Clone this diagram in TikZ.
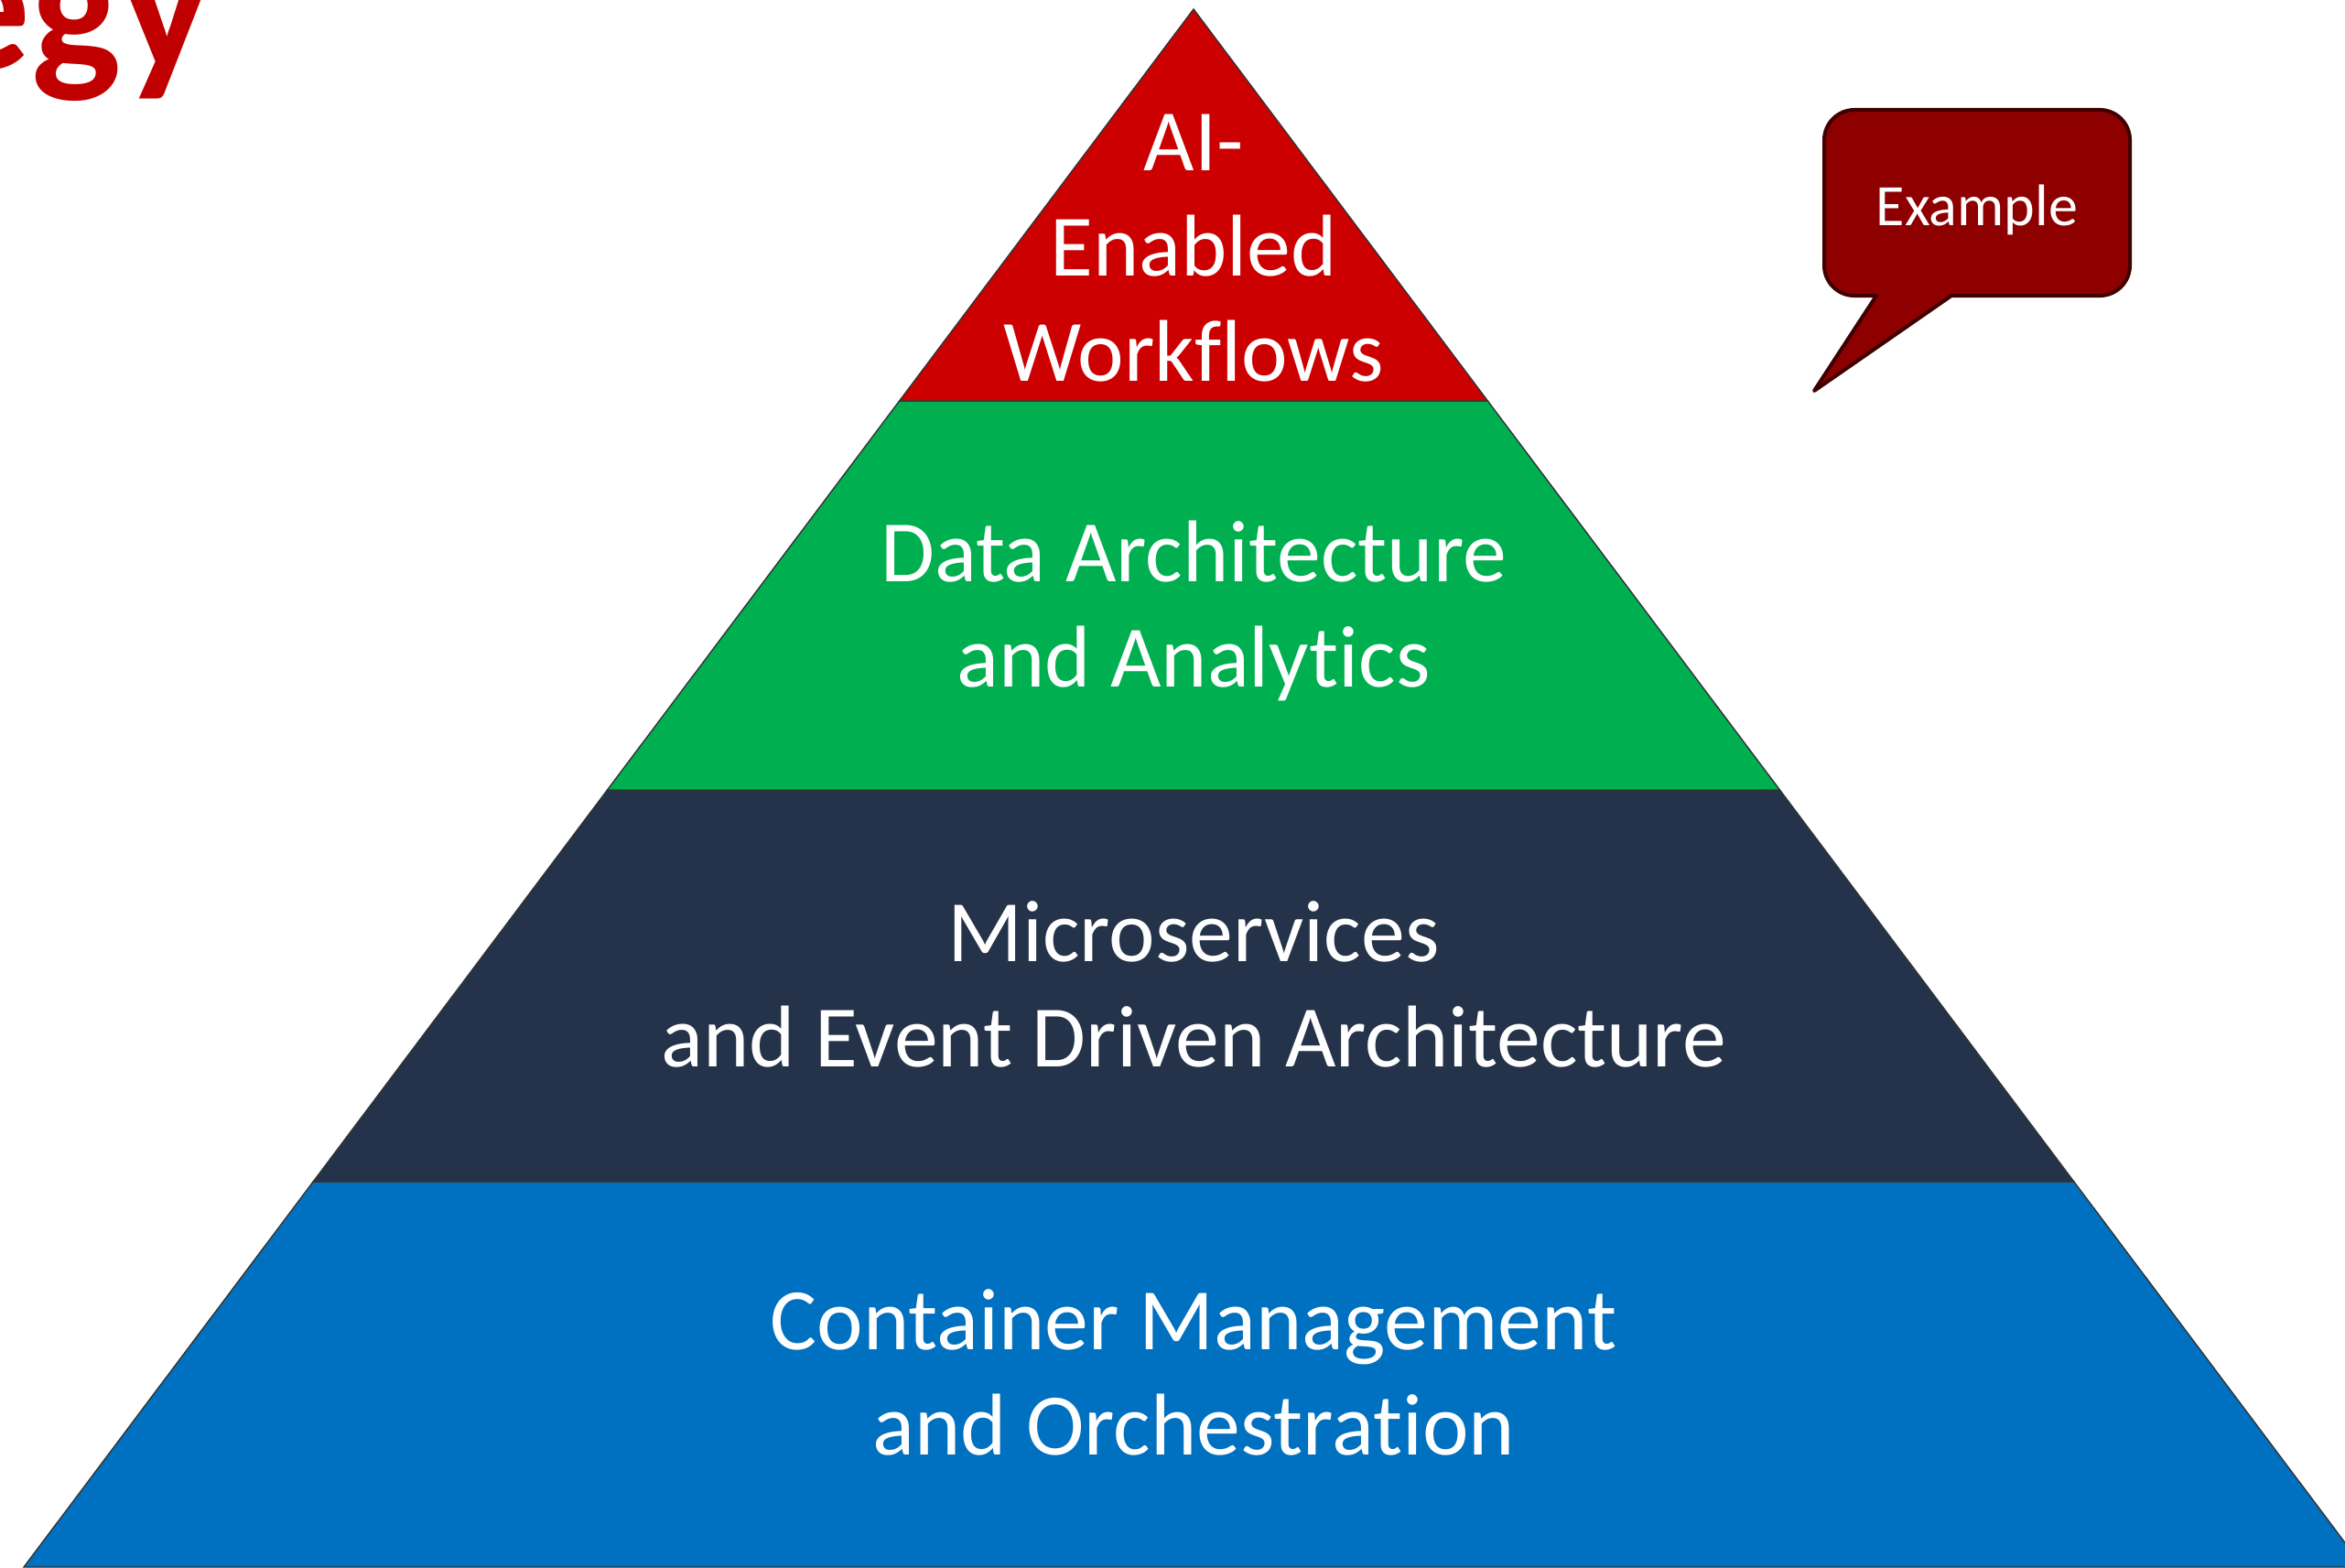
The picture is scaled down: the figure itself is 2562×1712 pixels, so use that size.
\documentclass[tikz,border=0pt]{standalone}
\usepackage{fontspec}
\setmainfont[Ligatures={NoCommon}]{Carlito}
\definecolor{pyrred}{HTML}{CC0000}
\definecolor{pyrgreen}{HTML}{00B050}
\definecolor{pyrnavy}{HTML}{243349}
\definecolor{pyrblue}{HTML}{0070C0}
\definecolor{titlered}{HTML}{C00000}
\definecolor{calfill}{HTML}{8E0000}
\definecolor{caledge}{HTML}{3F0000}
\definecolor{edgegray}{HTML}{333333}
\tikzset{
  layer/.style={draw=edgegray, line width=0.8pt, line join=miter},
  layertext/.style={text=white, align=center, font=\fontsize{54.5}{65.5}\selectfont},
  callout/.style={fill=calfill, draw=caledge, line width=2.3pt, line join=round},
  callouttext/.style={text=white, font=\fontsize{36.5}{42}\selectfont},
}
\begin{document}
\begin{tikzpicture}[x=0.02cm,y=-0.02cm]
\useasboundingbox (0,0) rectangle (2562,1712);
% pyramid corner coordinates
\coordinate (apex) at (1304,10);
\coordinate (l1) at (982.6,438);  \coordinate (r1) at (1625.4,438);
\coordinate (l2) at (663.5,863);  \coordinate (r2) at (1944.5,863);
\coordinate (l3) at (342.1,1291); \coordinate (r3) at (2265.9,1291);
\coordinate (l4) at (26,1712);    \coordinate (r4) at (2582,1712);
% layers
\draw[layer, fill=pyrblue]  (l3) -- (r3) -- (r4) -- (l4) -- cycle;
\draw[layer, fill=pyrnavy]  (l2) -- (r2) -- (r3) -- (l3) -- cycle;
\draw[layer, fill=pyrgreen] (l1) -- (r1) -- (r2) -- (l2) -- cycle;
\draw[layer, fill=pyrred]   (apex) -- (r1) -- (l1) -- cycle;
% layer texts
\node[layertext] (ai) at (1304,271) {AI-\\Enabled\\Workflows};
\node[layertext] (data) at (1304,667) {Data Architecture\\and Analytics};
\node[layertext] (micro) at (1304,1075) {Microservices\\and Event Driven Architecture};
\node[layertext] (cont) at (1304,1499) {Container Management\\and Orchestration};
% callout
\draw[callout] (2050,323) -- (1982,427) -- (2132,323)
  [rounded corners=0.66cm] -- (2327,323) -- (2327,120) -- (1993,120) -- (1993,323)
  [sharp corners] -- cycle;
\node[callouttext] (ex) at (2160,229) {Example};
% title fragment
\node[anchor=base east, inner sep=0pt, text=titlered, font=\bfseries\fontsize{118}{124}\selectfont] (title) at (231,75) {egy};
\end{tikzpicture}
\end{document}
